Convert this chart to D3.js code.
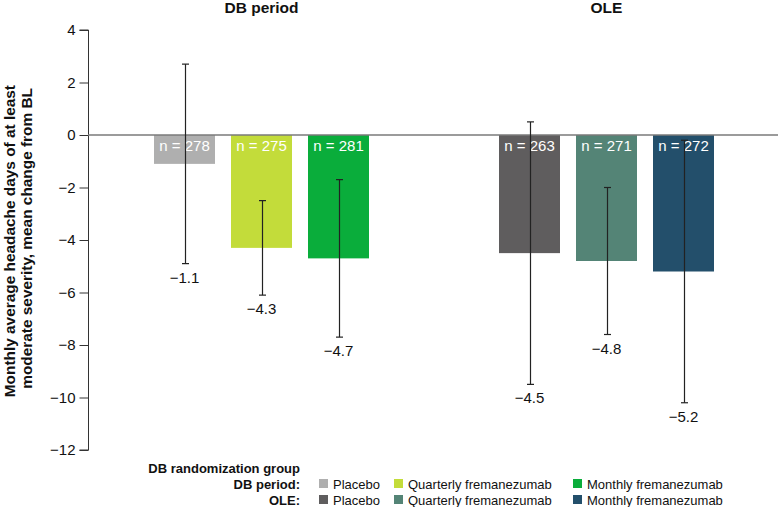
<!DOCTYPE html>
<html>
<head>
<meta charset="utf-8">
<script src="https://cdn.jsdelivr.net/npm/d3@7"></script>
<style>
  body { margin: 0; background: #fff; }
  svg { display: block; font-family: "Liberation Sans", Arial, sans-serif; }
</style>
</head>
<body>
<svg id="chart" width="778" height="507"></svg>
<script>
// ---- data ----
const periods = ["DB period", "OLE"];
const groups = ["Placebo", "Quarterly fremanezumab", "Monthly fremanezumab"];
const dbMeans = [-1.1, -4.3, -4.7];
const dbUpper = [2.7, -2.5, -1.7];
const dbLower = [-4.9, -6.1, -7.7];
const dbN = [278, 275, 281];
const oleMeans = [-4.5, -4.8, -5.2];
const oleUpper = [0.5, -2.0, -0.2];
const oleLower = [-9.5, -7.6, -10.2];
const oleN = [263, 271, 272];
const yTicks = [4, 2, 0, -2, -4, -6, -8, -10, -12];
const dbColors = ["#afafaf", "#c3dc3a", "#0aad3b"];
const oleColors = ["#5f5d5e", "#548476", "#234f6b"];

const svg = d3.select("#chart");
const y = d3.scaleLinear().domain([4, -12]).range([30, 450]);
const xPeriod = d3.scaleBand().domain(periods).range([146, 722]).paddingInner(114 / 345).paddingOuter(0);
const xGroup = d3.scaleBand().domain(groups).range([0, xPeriod.bandwidth()])
  .paddingInner(16 / 77).paddingOuter(8 / 77);

const data = [];
groups.forEach((g, i) => data.push({period: "DB period", group: g, mean: dbMeans[i], up: dbUpper[i], lo: dbLower[i], n: dbN[i], color: dbColors[i]}));
groups.forEach((g, i) => data.push({period: "OLE", group: g, mean: oleMeans[i], up: oleUpper[i], lo: oleLower[i], n: oleN[i], color: oleColors[i]}));

// axis
const axis = d3.axisLeft(y).tickValues(yTicks).tickSize(9).tickPadding(4)
  .tickFormat(d => d < 0 ? "\u2212" + Math.abs(d) : d);
const ag = svg.append("g").attr("transform", "translate(88.5,0)").call(axis);
ag.select(".domain").attr("stroke", "#333").attr("d", `M-9,${y(4)}H0V${y(-12)}H-9`);
ag.selectAll(".tick line").attr("stroke", "#333");
ag.selectAll(".tick text").attr("font-size", 15).attr("fill", "#111").attr("font-family", "Liberation Sans, Arial, sans-serif");

// bars
const bx = d => xPeriod(d.period) + xGroup(d.group);
const bw = xGroup.bandwidth();
svg.append("g").selectAll("rect").data(data).join("rect")
  .attr("x", bx).attr("width", bw)
  .attr("y", y(0)).attr("height", d => y(d.mean) - y(0))
  .attr("fill", d => d.color);

// zero line
svg.append("line").attr("x1", 88).attr("x2", 778).attr("y1", y(0)).attr("y2", y(0))
  .attr("stroke", "#7a7a7a").attr("stroke-width", 1.5);

// n labels
svg.append("g").selectAll("text").data(data).join("text")
  .attr("x", d => bx(d) + bw / 2).attr("y", y(0) + 16)
  .attr("text-anchor", "middle").attr("font-size", 15).attr("fill", "#fff")
  .text(d => "n = " + d.n);

// error bars
const eg = svg.append("g").attr("stroke", "#222").attr("stroke-width", 1.2);
data.forEach(d => {
  const cx = Math.round(bx(d) + bw / 2) + 0.5;
  eg.append("line").attr("x1", cx).attr("x2", cx).attr("y1", y(d.up)).attr("y2", y(d.lo));
  eg.append("line").attr("x1", cx - 3.5).attr("x2", cx + 3.5).attr("y1", y(d.up)).attr("y2", y(d.up));
  eg.append("line").attr("x1", cx - 3.5).attr("x2", cx + 3.5).attr("y1", y(d.lo)).attr("y2", y(d.lo));
});

// mean labels
svg.append("g").selectAll("text").data(data).join("text")
  .attr("x", d => bx(d) + bw / 2).attr("y", d => y(d.lo) + 19)
  .attr("text-anchor", "middle").attr("font-size", 15).attr("fill", "#111")
  .text(d => "\u2212" + Math.abs(d.mean).toFixed(1));

// period titles
svg.append("g").selectAll("text").data(periods).join("text")
  .attr("x", d => xPeriod(d) + xPeriod.bandwidth() / 2).attr("y", 13)
  .attr("text-anchor", "middle").attr("font-size", 15.5).attr("font-weight", "bold").attr("fill", "#111")
  .text(d => d);

// y-axis title
const yt = svg.append("text").attr("transform", `rotate(-90)`)
  .attr("text-anchor", "end").attr("font-size", 15.4).attr("font-weight", "bold").attr("fill", "#111");
yt.append("tspan").attr("x", -85).attr("y", 15).text("Monthly average headache days of at least");
yt.append("tspan").attr("x", -88).attr("y", 32).text("moderate severity, mean change from BL");

// legend
const lg = svg.append("g").attr("font-size", 13).attr("fill", "#111");
lg.append("text").attr("x", 300).attr("y", 473).attr("text-anchor", "end").attr("font-weight", "bold").text("DB randomization group");
const rows = [{label: "DB period:", colors: dbColors, y: 489}, {label: "OLE:", colors: oleColors, y: 505}];
const swX = [319, 394, 573];
rows.forEach(r => {
  lg.append("text").attr("x", 300).attr("y", r.y).attr("text-anchor", "end").attr("font-weight", "bold").text(r.label);
  groups.forEach((g, i) => {
    lg.append("rect").attr("x", swX[i]).attr("y", r.y - 10).attr("width", 9).attr("height", 9).attr("fill", r.colors[i]);
    lg.append("text").attr("x", swX[i] + 14).attr("y", r.y).text(g);
  });
});
</script>
</body>
</html>
